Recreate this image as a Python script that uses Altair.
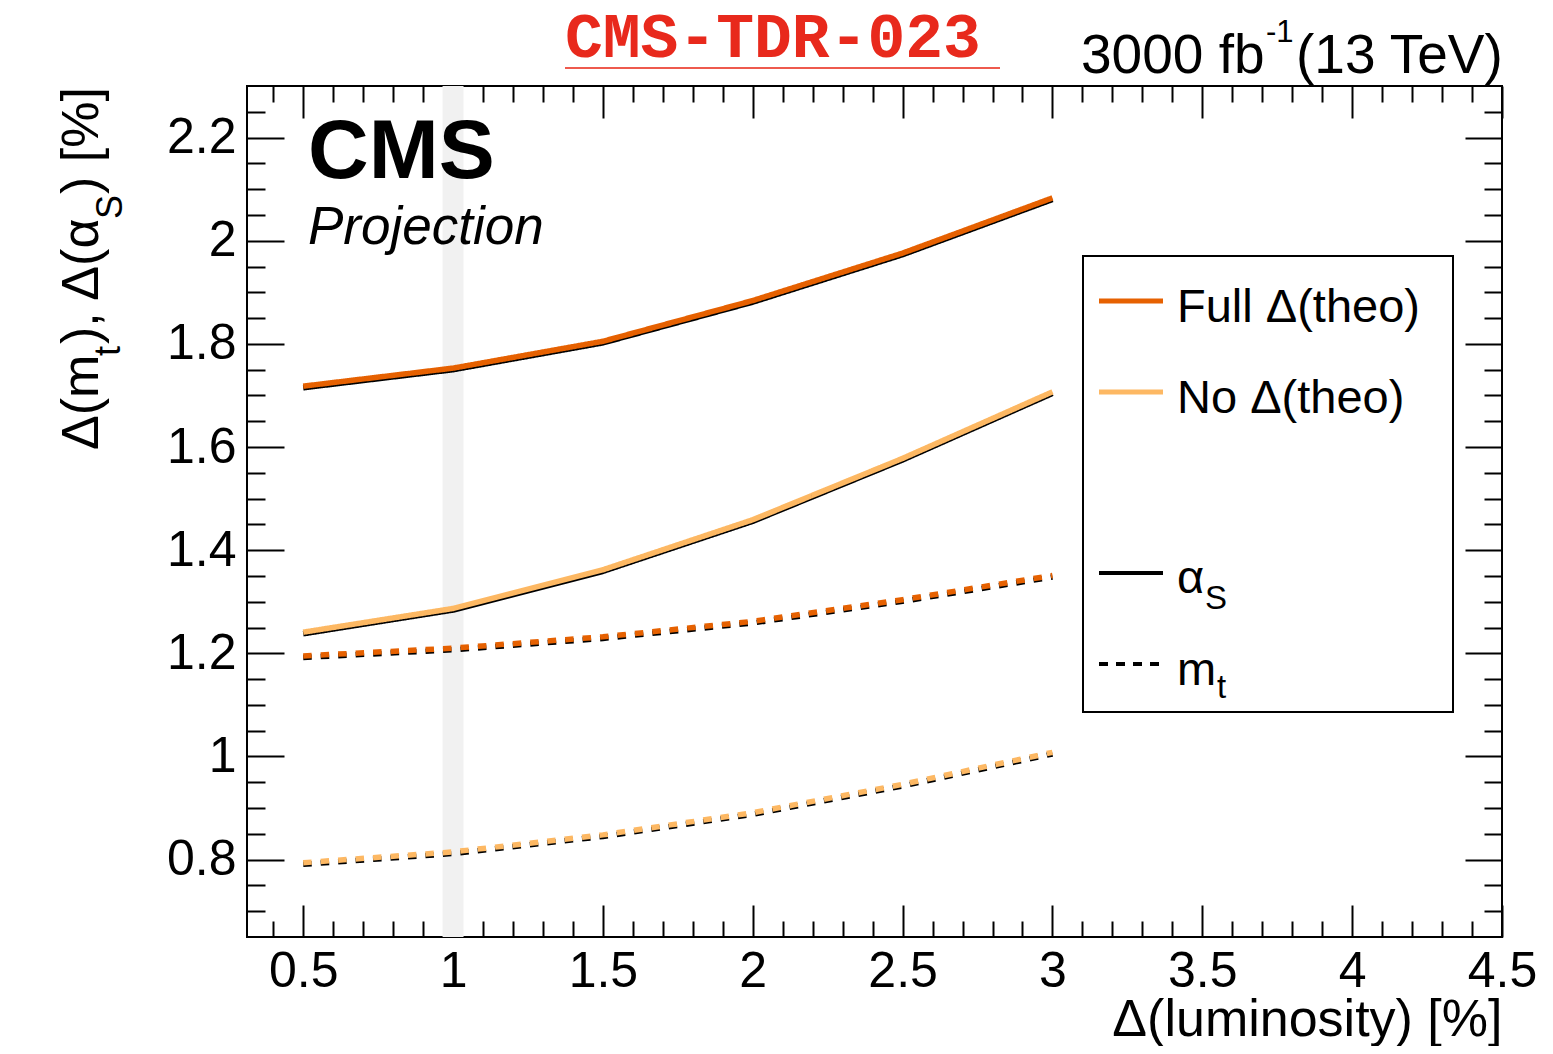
import altair as alt
import pandas as pd

# ---------------- data ----------------
lumi = [0.5, 1.0, 1.5, 2.0, 2.5, 3.0]
full_alphas = [1.718, 1.753, 1.805, 1.884, 1.976, 2.083]
no_alphas = [1.241, 1.287, 1.362, 1.459, 1.578, 1.707]
full_mt = [1.195, 1.210, 1.232, 1.262, 1.304, 1.351]
no_mt = [0.794, 0.815, 0.848, 0.891, 0.946, 1.008]

band_lo = [0.965]
band_hi = [1.035]

x_major = [0.5, 1.0, 1.5, 2.0, 2.5, 3.0, 3.5, 4.0, 4.5]
y_major = [0.8, 1.0, 1.2, 1.4, 1.6, 1.8, 2.0, 2.2]
x_minor = [round(0.4 + 0.1 * i, 2) for i in range(41)]
x_minor = [v for v in x_minor if all(abs(v - m) > 1e-6 for m in x_major)]
y_minor = [round(0.70 + 0.05 * i, 2) for i in range(32)]
y_minor = [v for v in y_minor if all(abs(v - m) > 1e-6 for m in y_major)]

# ---------------- layout constants ----------------
W, H = 1255, 851
X0, X1 = 0.3125, 4.5
Y0, Y1 = 0.65, 2.3
FONT = "Liberation Sans"
DARK = "#e66101"
LIGHT = "#fdb863"

rows = []
for theo, param, vals in [
    ("Full", "alphas", full_alphas),
    ("No", "alphas", no_alphas),
    ("Full", "mt", full_mt),
    ("No", "mt", no_mt),
]:
    for x, v in zip(lumi, vals):
        rows.append({"lumi": x, "value": v, "theo": theo, "param": param,
                     "series": theo + "_" + param})
df = pd.DataFrame(rows)

xs = alt.Scale(domain=[X0, X1], nice=False, zero=False)
ys = alt.Scale(domain=[Y0, Y1], nice=False, zero=False)

color_enc = alt.Color("theo:N", scale=alt.Scale(domain=["Full", "No"], range=[DARK, LIGHT]), legend=None)
dash_enc = alt.StrokeDash("param:N", scale=alt.Scale(domain=["alphas", "mt"], range=[[1, 0], [8.5, 9]]), legend=None)

# gray band at 1%
band = alt.Chart(pd.DataFrame({"lo": band_lo, "hi": band_hi})).mark_rect(color="#f1f1f1").encode(
    x=alt.X("lo:Q", scale=xs, axis=None), x2="hi:Q")

# black under-lines (slightly offset downward)
under = alt.Chart(df).mark_line(strokeWidth=5.5, yOffset=1.6, color="black").encode(
    x=alt.X("lumi:Q", scale=xs, axis=None),
    y=alt.Y("value:Q", scale=ys, axis=None),
    strokeDash=dash_enc,
    detail="series:N",
)

# main coloured lines with the labelled axes
lines = alt.Chart(df).mark_line(strokeWidth=5.5).encode(
    x=alt.X("lumi:Q", scale=xs, axis=alt.Axis(
        orient="bottom", values=x_major, format="~g", ticks=False, domain=False, grid=False,
        labelFont=FONT, labelFontSize=50, labelColor="black", labelPadding=9,
        labelFlush=False, labelOverlap=False, labelBound=False,
        title="Δ(luminosity) [%]", titleFont=FONT, titleFontSize=52, titleFontWeight="normal",
        titleColor="black", titleAlign="right", titleX=W, titleY=98, titleBaseline="alphabetic")),
    y=alt.Y("value:Q", scale=ys, axis=alt.Axis(
        orient="left", values=y_major, format="~g", ticks=False, domain=False, grid=False,
        labelFont=FONT, labelFontSize=50, labelColor="black", labelPadding=11,
        labelFlush=False, labelOverlap=False, labelBound=False, title=None)),
    color=color_enc,
    strokeDash=dash_enc,
    detail="series:N",
)


def tick_layer(xorient, yorient, xvals, yvals, xsize, ysize):
    return alt.Chart(df).mark_point(opacity=0).encode(
        x=alt.X("lumi:Q", scale=xs, axis=alt.Axis(
            orient=xorient, offset=-H, values=xvals, ticks=True, tickSize=xsize, tickWidth=2,
            tickColor="black", labels=False, domain=False, grid=False, title=None)),
        y=alt.Y("value:Q", scale=ys, axis=alt.Axis(
            orient=yorient, offset=-W, values=yvals, ticks=True, tickSize=ysize, tickWidth=2,
            tickColor="black", labels=False, domain=False, grid=False, title=None)),
    )


# inward ticks: bottom/left (via opposite-orient axes shifted across), top/right
t1 = tick_layer("top", "right", x_major, y_major, 32, 37)
t2 = tick_layer("top", "right", x_minor, y_minor, 16, 18)
t3 = tick_layer("bottom", "left", x_major, y_major, 32, 37)
t4 = tick_layer("bottom", "left", x_minor, y_minor, 16, 18)


def label(txt, x, y, size, angle=0, weight="normal", style="normal", font=FONT, color="black"):
    return alt.Chart(alt.Data(values=[{"t": txt}])).mark_text(
        align="left", baseline="alphabetic", fontSize=size, font=font, angle=angle,
        fontWeight=weight, fontStyle=style, color=color,
    ).encode(text="t:N", x=alt.value(x), y=alt.value(y))


texts = [
    label("CMS", 61, 92, 84, weight="bold"),
    label("Projection", 61, 158, 53, style="italic"),
    label("CMS-TDR-023", 318, -29, 63, weight="bold", font="Liberation Mono", color="#e8291c"),
    label("3000 fb", 834, -13, 55),
    label("-1", 1019, -44, 31),
    label("(13 TeV)", 1049, -13, 55),
    # y title pieces (rotated)
    label("Δ(m", -149, 364, 52, angle=270),
    label("t", -127, 270, 36, angle=270),
    label("), Δ(α", -149, 258, 52, angle=270),
    label("S", -125, 133, 36, angle=270),
    label(") [%]", -149, 108, 52, angle=270),
]

underline = alt.Chart(alt.Data(values=[{}])).mark_rule(color="#ee5a4e", strokeWidth=2).encode(
    x=alt.value(318), x2=alt.value(753), y=alt.value(-18))

# legend
leg_box = alt.Chart(alt.Data(values=[{}])).mark_rect(fill="white", stroke="black", strokeWidth=2).encode(
    x=alt.value(836), x2=alt.value(1206), y=alt.value(170), y2=alt.value(626))


def sample(y, color, width, dash=None):
    kw = dict(color=color, strokeWidth=width)
    if dash:
        kw["strokeDash"] = dash
    return alt.Chart(alt.Data(values=[{}])).mark_rule(**kw).encode(
        x=alt.value(852), x2=alt.value(916), y=alt.value(y))


legend = [
    leg_box,
    sample(215, DARK, 5),
    sample(306, LIGHT, 5),
    sample(487, "black", 4),
    sample(578, "black", 4, [9, 8]),
    label("Full Δ(theo)", 930, 236, 47),
    label("No Δ(theo)", 930, 327, 47),
    label("α", 930, 507, 47),
    label("S", 958, 523, 33),
    label("m", 930, 599, 47),
    label("t", 970, 612, 33),
]

chart = alt.layer(band, under, lines, t1, t2, t3, t4, underline, *texts, *legend).resolve_axis(
    x="independent", y="independent"
).properties(
    width=W, height=H,
    autosize=alt.AutoSizeParams(type="none"),
    padding={"left": 239, "top": 78, "right": 43, "bottom": 109},
    background="white",
).configure_view(stroke="black", strokeWidth=2)

chart.save("out.html", embed_options={"renderer": "svg", "actions": False})
